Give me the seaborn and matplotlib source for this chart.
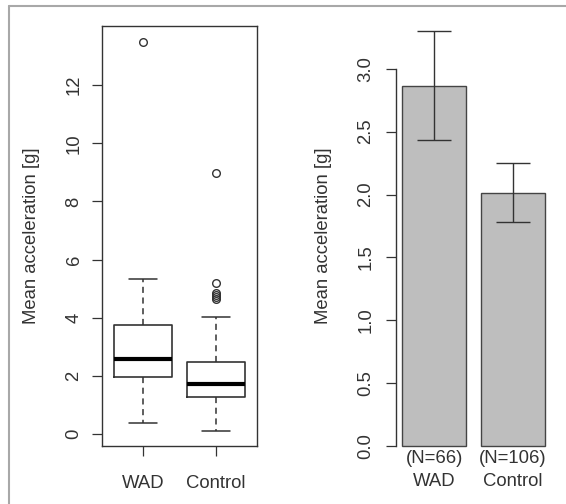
import matplotlib
matplotlib.use("Agg")
import matplotlib.pyplot as plt
from matplotlib.lines import Line2D
import numpy as np
import pandas as pd
import seaborn as sns

# values
groups = ["WAD", "Control"]
n_obs = [66, 106]

# boxplot five-number summaries + outliers
box_med = [2.58, 1.72]
box_q1 = [1.97, 1.28]
box_q3 = [3.74, 2.49]
whisk_lo = [0.39, 0.11]
whisk_hi = [5.32, 4.03]
fliers_wad = [13.49]
fliers_control = [8.98, 5.20, 4.85, 4.78, 4.72, 4.66]

# bar chart: means with error bar limits
bar_means = [2.86, 2.01]
err_lo = [2.43, 1.78]
err_hi = [3.30, 2.25]

sns.set_style("ticks")
plt.rcParams["font.family"] = ["Liberation Sans", "DejaVu Sans"]
plt.rcParams["font.size"] = 13.3
plt.rcParams["text.color"] = "#333333"
plt.rcParams["axes.labelcolor"] = "#333333"
plt.rcParams["xtick.color"] = "#333333"
plt.rcParams["ytick.color"] = "#333333"
plt.rcParams["xtick.labelsize"] = 13.3
plt.rcParams["ytick.labelsize"] = 13.3

W, H = 566, 504
fig = plt.figure(figsize=(W / 100, H / 100), dpi=100)
fig.patch.set_facecolor("white")

line_col = "#333333"

# ---- left panel: boxplot ----
ax1 = fig.add_axes([102 / W, 1 - 446 / H, 155 / W, 420 / H])
stats = []
all_fliers = [fliers_wad, fliers_control]
for i, g in enumerate(groups):
    stats.append({
        "label": g,
        "med": box_med[i],
        "q1": box_q1[i],
        "q3": box_q3[i],
        "whislo": whisk_lo[i],
        "whishi": whisk_hi[i],
        "fliers": np.array(all_fliers[i]),
    })
ax1.bxp(stats, positions=[1, 2], widths=0.8, capwidths=0.39,
        boxprops=dict(color=line_col, linewidth=1.2),
        medianprops=dict(color="black", linewidth=3),
        whiskerprops=dict(color=line_col, linewidth=1.1, linestyle=(0, (4, 3))),
        capprops=dict(color=line_col, linewidth=1.1),
        flierprops=dict(marker="o", markerfacecolor="none",
                        markeredgecolor=line_col, markersize=5.5,
                        markeredgewidth=1))
ax1.set_xlim(0.43, 2.57)
ax1.set_ylim(-0.41, 14.03)
ax1.set_yticks([0, 2, 4, 6, 8, 10, 12])
ax1.set_xticks([1, 2])
ax1.set_xticklabels(groups)
for sp in ax1.spines.values():
    sp.set_visible(True)
    sp.set_color(line_col)
    sp.set_linewidth(1.0)
ax1.tick_params(axis="y", length=7, width=0.9, pad=7)
ax1.tick_params(axis="x", length=7, width=0.9, pad=14)
for lab in ax1.get_yticklabels():
    lab.set_rotation(90)
    lab.set_va("center")
ax1.set_ylabel("Mean acceleration [g]", labelpad=18.5)

# ---- right panel: bar chart with error bars ----
ax2 = fig.add_axes([396 / W, 1 - 446 / H, 155 / W, 420 / H])
bar_df = pd.DataFrame({"group": groups, "mean": bar_means})
sns.barplot(data=bar_df, x="group", y="mean", color="#bebebe",
            edgecolor="#444444", linewidth=1.0, width=0.82,
            saturation=1, ax=ax2)
for p in ax2.patches:
    p.set_clip_on(False)
means = np.array(bar_means)
yerr = [means - np.array(err_lo), np.array(err_hi) - means]
ax2.errorbar(x=[0, 1], y=means, yerr=yerr, fmt="none", ecolor=line_col,
             elinewidth=1.0, capsize=12.5, capthick=1.0)
ax2.set_xlim(-0.49, 1.49)
ax2.set_ylim(0, 3.34)
ax2.set_yticks([0.0, 0.5, 1.0, 1.5, 2.0, 2.5, 3.0])
ax2.set_yticklabels(["0.0", "0.5", "1.0", "1.5", "2.0", "2.5", "3.0"])
ax2.set_xticks([0, 1])
ax2.set_xticklabels([f"(N={n})\n{g}" for n, g in zip(n_obs, groups)],
                    linespacing=1.45)
for s in ["top", "right", "bottom"]:
    ax2.spines[s].set_visible(False)
ax2.spines["left"].set_color(line_col)
ax2.spines["left"].set_linewidth(1.0)
ax2.spines["left"].set_bounds(0, 3)
ax2.tick_params(axis="y", length=7.5, width=0.9, pad=8)
ax2.tick_params(axis="x", length=0, pad=3)
for lab in ax2.get_yticklabels():
    lab.set_rotation(90)
    lab.set_va("center")
ax2.set_xlabel("")
ax2.set_ylabel("Mean acceleration [g]", labelpad=18.5)

# screenshot frame lines
fig.add_artist(Line2D([9 / W, 9 / W], [0, 1 - 6 / H], transform=fig.transFigure,
                      color="#a8a8a8", linewidth=1.5))
fig.add_artist(Line2D([9 / W, 1], [1 - 6 / H, 1 - 6 / H], transform=fig.transFigure,
                      color="#a8a8a8", linewidth=1.5))

fig.savefig("out.png", dpi=100)
